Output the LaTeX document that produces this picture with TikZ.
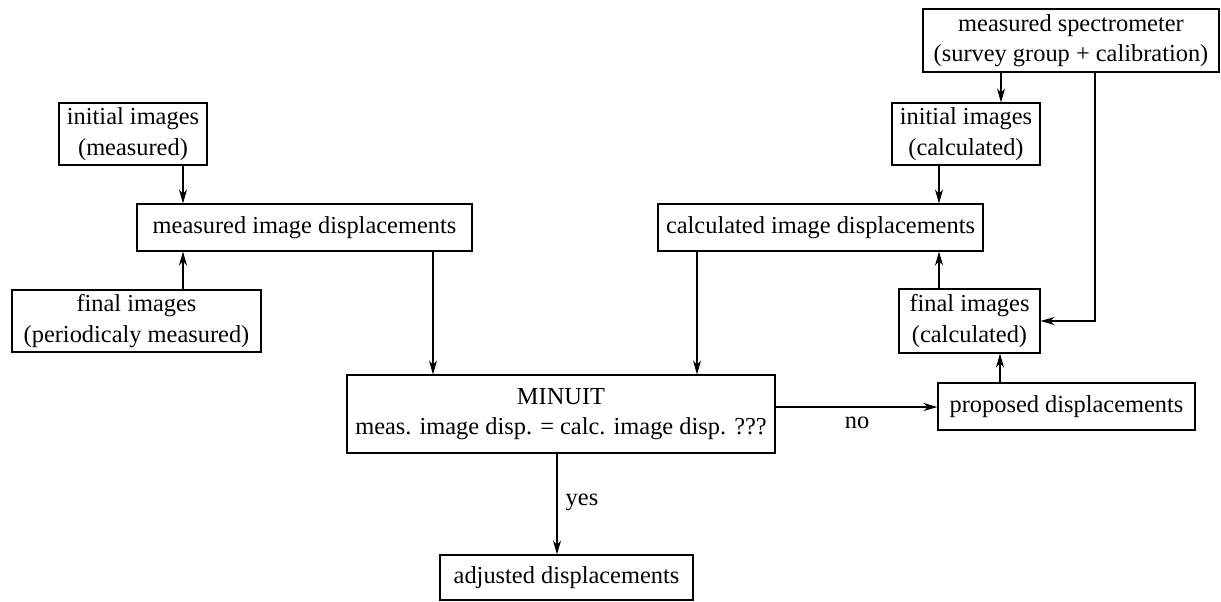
\documentclass[tikz,border=0pt]{standalone}
\usepackage{fontspec}
\setmainfont{Liberation Serif}
\usetikzlibrary{arrows.meta}
\begin{document}
\begin{tikzpicture}[x=0.5pt,y=-0.5pt,
  box/.style={draw,line width=0.55pt,inner sep=0pt,align=center,
    font=\fontsize{12.2}{15.2}\selectfont},
  lbl/.style={inner sep=0pt,font=\fontsize{12.2}{15.2}\selectfont},
  arr/.style={line width=0.55pt,-{Stealth[length=7pt,width=4pt,inset=2.2pt]}}]
\useasboundingbox (0,0) rectangle (1221,601);
\node[box,minimum width=74pt,minimum height=31pt] (A) at (133,134) {initial images\\(measured)};
\node[box,minimum width=167.5pt,minimum height=23.5pt] (B) at (304.5,227.5) {measured image displacements};
\node[box,minimum width=124.5pt,minimum height=31pt] (C) at (136.5,321) {final images\\(periodicaly measured)};
\node[box,minimum width=148pt,minimum height=31.5pt] (D) at (1071,40.5) {measured spectrometer\\(survey group + calibration)};
\node[box,minimum width=74pt,minimum height=31pt] (E) at (966,134) {initial images\\(calculated)};
\node[box,minimum width=162.5pt,minimum height=23.5pt] (F) at (820.5,227.5) {calculated image displacements};
\node[box,minimum width=70.5pt,minimum height=32pt] (G) at (969.5,321) {final images\\(calculated)};
\node[box,minimum width=214pt,minimum height=39pt] (M) at (561,414) {MINUIT\\meas. image disp. = calc. image disp. ???};
\node[box,minimum width=128.5pt,minimum height=23.5pt] (P) at (1066.5,406.5) {proposed displacements};
\node[box,minimum width=126.5pt,minimum height=22.5pt] (J) at (566.5,577.5) {adjusted displacements};
\node[lbl] (no) at (857,423) {no};
\node[lbl] (yes) at (582,502) {yes};
\coordinate (DG) at (1095,321);
\draw[arr] (A.south -| 183,0) -- (B.north -| 183,0);
\draw[arr] (C.north -| 183,0) -- (B.south -| 183,0);
\draw[arr] (B.south -| 433,0) -- (M.north -| 433,0);
\draw[arr] (F.south -| 697,0) -- (M.north -| 697,0);
\draw[arr] (D.south -| 1001,0) -- (E.north -| 1001,0);
\draw[arr] (E.south -| 939,0) -- (F.north -| 939,0);
\draw[arr] (G.north -| 939,0) -- (F.south -| 939,0);
\draw[arr] (D.south -| DG) -- (DG) -- (G.east |- DG);
\draw[arr] (P.north -| 1000,0) -- (G.south -| 1000,0);
\draw[arr] (M.east |- 0,407) -- (P.west |- 0,407);
\draw[arr] (M.south -| 557,0) -- (J.north -| 557,0);
\end{tikzpicture}
\end{document}
